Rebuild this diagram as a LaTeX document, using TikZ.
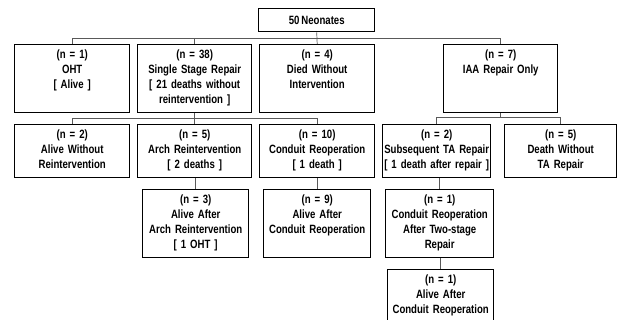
\documentclass[tikz,border=0pt]{standalone}
\usepackage{fontspec}
\setmainfont[FakeStretch=0.8,WordSpace=0.75]{Liberation Sans}
\usetikzlibrary{calc}

\begin{document}
\begin{tikzpicture}[x=1pt,y=-1pt,
 box/.style={draw=black, line width=1.4pt, anchor=north west, align=center, font=\bfseries\fontsize{12}{15}\selectfont, inner xsep=0pt, inner ysep=0pt, text height=14pt},
 tall/.style={box, text width=#1, text depth=54pt},
 short/.style={box, text width=#1, text depth=39pt},
 link/.style={draw=black!65, line width=.7pt}]
\useasboundingbox (0,0) rectangle (617,320);
\clip (0,0) rectangle (617,320);
\node[draw=black, line width=1.4pt, anchor=north west, font=\bfseries\fontsize{12}{14}\selectfont, minimum width=116pt, minimum height=23pt] (neo) at (258,8) {50 Neonates};
\node[tall=115pt] (oht) at (14,44) {(n = 1)\\OHT\\{[} Alive ]};
\node[tall=114pt] (ssr) at (137,44) {(n = 38)\\Single Stage Repair\\{[} 21 deaths without\\reintervention ]};
\node[tall=115pt] (dwi) at (259,44) {(n = 4)\\Died Without\\Intervention};
\node[tall=114pt] (iaa) at (443,44) {(n = 7)\\IAA Repair Only};
\node[short=115pt] (awr) at (14,124) {(n = 2)\\Alive Without\\Reintervention};
\node[short=114pt] (arch) at (137,124) {(n = 5)\\Arch Reintervention\\{[} 2 deaths ]};
\node[short=115pt] (cond) at (259,124) {(n = 10)\\Conduit Reoperation\\{[} 1 death ]};
\node[short=108pt] (sta) at (382,124) {(n = 2)\\Subsequent TA Repair\\{[} 1 death after repair ]};
\node[short=112pt] (dwt) at (504,124) {(n = 5)\\Death Without\\TA Repair};
\node[tall=106pt] (aaa) at (142,189) {(n = 3)\\Alive After\\Arch Reintervention\\{[} 1 OHT ]};
\node[tall=107pt] (aac) at (263,189) {(n = 9)\\Alive After\\Conduit Reoperation};
\node[tall=108pt] (crt) at (385,189) {(n = 1)\\Conduit Reoperation\\After Two-stage\\Repair};
\node[tall=106pt] (aac2) at (387,269) {(n = 1)\\Alive After\\Conduit Reoperation};
\coordinate (t1) at ($(neo.south)+(0,6)$);
\coordinate (t2) at ($(ssr.south)+(0,5)$);
\coordinate (t3) at ($(iaa.south)+(0,4)$);
\draw[link] (neo.south) -- (dwi.north);
\draw[link] (oht.north) |- (t1) -| (iaa.north);
\draw[link] (ssr.north) -- (ssr.north |- t1);
\draw[link] (ssr.south) -- (arch.north);
\draw[link] (awr.north) |- (t2) -| (cond.north);
\draw[link] (iaa.south) -- (t3);
\draw[link] (sta.north) |- (t3) -| (dwt.north);
\draw[link] (aaa.north) -- (aaa.north |- arch.south);
\draw[link] (aac.north) -- (aac.north |- cond.south);
\draw[link] (crt.north) -- (crt.north |- sta.south);
\draw[link] (aac2.north) -- (aac2.north |- crt.south);
\end{tikzpicture}
\end{document}
